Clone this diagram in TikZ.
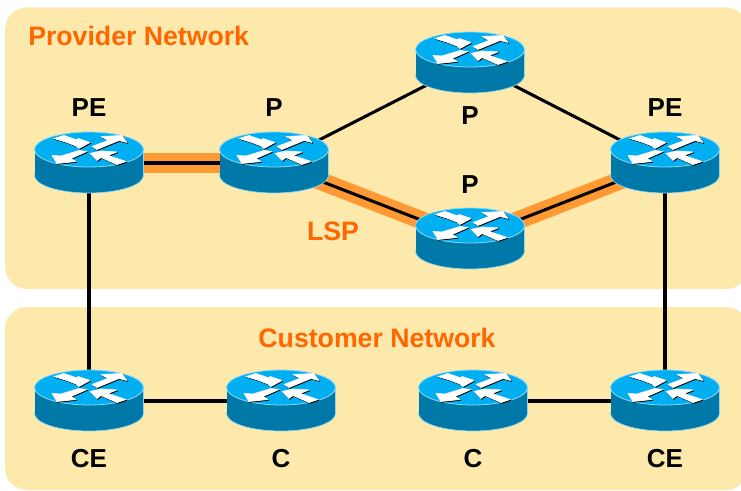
\documentclass[tikz,border=0pt]{standalone}
\usepackage{fontspec}
\setmainfont{Liberation Sans}
\definecolor{panel}{HTML}{FDE9AB}
\definecolor{lsp}{HTML}{FF9933}
\definecolor{lbl}{HTML}{FF6600}
\definecolor{rtop}{HTML}{00AEF2}
\definecolor{rside}{HTML}{0078A8}
\definecolor{redge}{HTML}{8FD8F2}
\tikzset{
  x=0.75pt,y=-0.75pt,
  panelbox/.style={fill=panel,draw=none,rounded corners=16.5pt},
  link/.style={draw=black,line width=2.3pt},
  band/.style={draw=lsp,line width=#1},
  rlabel/.style={font=\fontsize{19.5}{21}\selectfont\bfseries,text=black,inner sep=0pt},
  olabel/.style={font=\fontsize{20}{22}\selectfont\bfseries,text=lbl,inner sep=0pt},
  router/.pic={
    \fill[redge] (-54.5,-13.5) rectangle (54.5,12.5);
    \path[fill=rside,draw=redge,line width=0.5pt] (0,12.5) ellipse [x radius=54.5,y radius=17.5];
    \fill[rside] (-54,-13.5) rectangle (54,12.5);
    \path[fill=rtop,draw=redge,line width=0.6pt] (0,-13.5) ellipse [x radius=54.5,y radius=17.5];
    \foreach \dx/\dy/\col in {0.8/0.8/black,0/0/white}{
      \begin{scope}[shift={(\dx,-13.5+\dy)},line width=0.5pt,line join=round]
        \path[fill=\col,draw=\col] (-35,-11)--(-25,-14)--(-12,-9.5)--(-11,-11)--(1,-7)--(-10,-1)--(-13,-3.5)--(-22,-7)--cycle;
        \path[fill=\col,draw=\col] (3,-3)--(19,-9)--(12,-13)--(33,-14)--(38,-7)--(30,-9)--(8,0)--cycle;
        \path[fill=\col,draw=\col] (-37,6)--(-28,6.5)--(-10,1)--(-2,2)--(-18,9)--(-13,12)--(-32,14)--cycle;
        \path[fill=\col,draw=\col] (1,4)--(12,1.5)--(28,2.5)--(19,6)--(37,12)--(28,15)--(12,8)--(8,11)--cycle;
      \end{scope}
    }
  }
}
\begin{document}
\begin{tikzpicture}
\useasboundingbox (0,0) rectangle (741,491);
\clip (0,0) rectangle (741,491);
\fill[white] (0,0) rectangle (741,491);
\path[panelbox] (5,7.5) rectangle (748,289);
\path[panelbox] (5,307) rectangle (748,490);
\coordinate (pe1) at (89,163);
\coordinate (p1) at (274,163);
\coordinate (p2) at (470,63);
\coordinate (p3) at (470,239);
\coordinate (pe2) at (665,163);
\coordinate (ce1) at (89,401);
\coordinate (c1) at (281,401);
\coordinate (c2) at (473,401);
\coordinate (ce2) at (665,401);
\draw[band=15.5pt] (pe1) -- (p1);
\draw[band=13.5pt] (p1) -- (p3);
\draw[band=13.5pt] (p3) -- (pe2);
\draw[link] (pe1) -- (p1);
\draw[link] (p1) -- (p3);
\draw[link] (p3) -- (pe2);
\draw[link] (p1) -- (p2);
\draw[link] (p2) -- (pe2);
\draw[link] (pe1) -- (ce1);
\draw[link] (pe2) -- (ce2);
\draw[link] (ce1) -- (c1);
\draw[link] (c2) -- (ce2);
\foreach \r in {pe1,p1,p2,p3,pe2,ce1,c1,c2,ce2}{ \pic at (\r) {router}; }
\node[olabel,anchor=west] (prov) at (28,36) {Provider Network};
\node[olabel] (cust) at (377,338) {Customer Network};
\node[olabel] (lspl) at (333,231) {LSP};
\node[rlabel] (lpe1) at (89,108) {PE};
\node[rlabel] (lp1) at (274,108) {P};
\node[rlabel] (lp2) at (470,116) {P};
\node[rlabel] (lp3) at (470,185) {P};
\node[rlabel] (lpe2) at (665,108) {PE};
\node[rlabel] (lce1) at (89,459) {CE};
\node[rlabel] (lc1) at (281,459) {C};
\node[rlabel] (lc2) at (473,459) {C};
\node[rlabel] (lce2) at (665,459) {CE};
\end{tikzpicture}
\end{document}
